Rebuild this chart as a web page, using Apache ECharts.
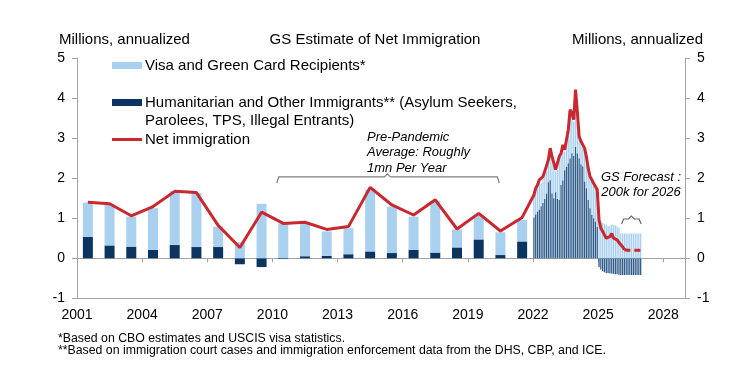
<!DOCTYPE html>
<html><head><meta charset="utf-8">
<script src="https://cdn.jsdelivr.net/npm/echarts@6/dist/echarts.min.js"></script>
<style>html,body{margin:0;padding:0;background:#fff}#c{width:750px;height:375px}</style>
</head><body><div id="c"></div>
<script>
// ---------- DATA ----------
const years = [2001,2002,2003,2004,2005,2006,2007,2008,2009,2010,2011,2012,2013,2014,2015,2016,2017,2018,2019,2020,2021];
const annualHumanitarian = [0.53,0.32,0.29,0.21,0.33,0.28,0.28,-0.15,-0.22,-0.02,0.05,0.06,0.10,0.17,0.13,0.21,0.14,0.27,0.47,0.08,0.42];
const annualVisa = [0.86,1.04,0.75,1.04,1.35,1.35,0.51,0.40,1.36,0.87,0.83,0.61,0.65,1.55,1.16,0.83,1.28,0.45,0.61,0.57,0.54];
const annualNet = [1.40,1.36,1.06,1.29,1.67,1.64,0.82,0.27,1.15,0.87,0.90,0.72,0.79,1.77,1.33,1.08,1.46,0.73,1.12,0.68,1.02];

const monthStartYear = 2022; // monthly series Jan 2022 .. Dec 2026
const monthlyHumanitarian = [
  1.02,1.10,1.17,1.22,1.30,1.38,1.48,1.62,1.90,1.95,1.62,1.50,
  1.65,1.48,1.46,1.83,1.95,2.20,2.28,2.37,2.50,2.62,2.55,2.78,
  2.62,2.50,2.35,2.30,1.92,1.75,1.46,1.25,1.08,1.00,0.92,0.78,
  -0.22,-0.28,-0.32,-0.35,-0.37,-0.37,-0.38,-0.38,-0.39,-0.40,-0.40,-0.41,
  -0.42,-0.42,-0.42,-0.42,-0.42,-0.42,-0.42,-0.42,-0.42,-0.42,-0.42,-0.42
];
const monthlyVisa = [
  0.51,0.60,0.61,0.69,0.57,0.61,0.64,0.54,0.51,0.75,0.87,0.83,
  0.51,0.72,1.03,0.74,0.83,0.46,0.63,0.79,1.16,0.95,0.86,1.38,
  1.00,0.49,0.52,0.53,0.78,0.74,0.74,0.74,0.83,0.82,0.82,0.88,
  0.98,0.92,0.88,0.86,0.84,0.80,0.82,0.84,0.83,0.82,0.80,0.76,
  0.62,0.62,0.62,0.62,0.62,0.62,0.62,0.62,0.62,0.62,0.62,0.62
];
const monthlyNet = [
  1.58,1.75,1.83,1.96,1.92,2.04,2.17,2.21,2.46,2.75,2.54,2.38,
  2.21,2.25,2.54,2.62,2.83,2.71,2.96,3.21,3.71,3.62,3.46,4.21,
  3.67,3.04,2.92,2.88,2.75,2.54,2.25,2.04,1.96,1.87,1.79,1.71,
  0.96,0.75,0.67,0.58,0.50,0.46,0.54,0.62,0.50,0.52,0.46,0.39,
  0.36,0.29,0.21
];
const forecastNet2026 = [0.21,0.20,0.20,0.20,0.20,0.20,0.20,0.20,0.20,0.20]; // Mar..Dec 2026
const forecastStartMonth = 50;

const yTicks = {min:-1, max:5, interval:1};
const xRange = {min:2001, max:2029, interval:3};

const NAME_VISA = 'Visa and Green Card Recipients*';
const NAME_HUM = 'Humanitarian and Other Immigrants** (Asylum Seekers, Parolees, TPS, Illegal Entrants)';
const NAME_NET = 'Net immigration';

// ---------- BUILD ----------
const yearCats = [];
for (let y = xRange.min; y < xRange.max; y++) yearCats.push(String(y));
const monthCats = [];
for (let y = xRange.min; y < xRange.max; y++) for (let m = 1; m <= 12; m++) monthCats.push(y + '-' + m);
const annualBars = arr => yearCats.map(c => { const i = years.indexOf(+c); return i < 0 ? null : arr[i]; });
const monthOffset = (monthStartYear - xRange.min) * 12;
const monthBars = arr => monthCats.map((c, k) => { const i = k - monthOffset; return (i >= 0 && i < arr.length) ? arr[i] : null; });

const monthX = i => monthStartYear + (i + 0.5) / 12;
const netLine = years.map((y, i) => [y + 0.5, annualNet[i]]).concat(monthlyNet.map((v, i) => [monthX(i), v]));
const forecastLine = forecastNet2026.map((v, k) => [monthX(forecastStartMonth + k), v]);

const FONT = '"Liberation Sans", Arial, sans-serif';
const AX = '#a3a3a3';
const NAVY = '#0c3460', LIGHT = '#a9d0ef', RED = '#c8282e';

const chart = echarts.init(document.getElementById('c'), null, {renderer: 'canvas'});
const titleStyle = {fontSize: 15, fontWeight: 'normal', color: '#000', fontFamily: FONT};
const legendText = {fontSize: 15, color: '#000', fontFamily: FONT, padding: [0,0,0,-2]};
const option = {
  animation: false,
  textStyle: {fontFamily: FONT, color: '#000'},
  title: [
    {text: 'GS Estimate of Net Immigration', left: 'center', top: 32, padding: 0, textStyle: titleStyle},
    {text: 'Millions, annualized', left: 59, top: 32, padding: 0, textStyle: titleStyle},
    {text: 'Millions, annualized', right: 47, top: 32, padding: 0, textStyle: titleStyle}
  ],
  legend: [
    {data: [{name: NAME_VISA, icon: 'rect'}], left: 112, top: 58, padding: 0, itemWidth: 30, itemHeight: 7,
     selectedMode: false, textStyle: legendText},
    {data: [{name: NAME_HUM, icon: 'rect'}], left: 112, top: 95, padding: 0, itemWidth: 30, itemHeight: 7,
     selectedMode: false, formatter: () => 'Humanitarian and Other Immigrants** (Asylum Seekers,',
     textStyle: legendText},
    {data: [{name: NAME_NET, icon: 'rect'}], left: 112, top: 132, padding: 0, itemWidth: 30, itemHeight: 3,
     selectedMode: false, textStyle: legendText}
  ],
  grid: {left: 77, right: 65, top: 58, bottom: 76.7, containLabel: false},
  xAxis: [
    {type: 'value', min: xRange.min, max: xRange.max, interval: xRange.interval, position: 'bottom',
     axisLine: {onZero: false, lineStyle: {color: AX, width: 1}},
     axisTick: {show: false}, splitLine: {show: false},
     axisLabel: {fontSize: 14, color: '#000', margin: 10, fontFamily: FONT, showMaxLabel: false,
       formatter: v => (v % 3 === 0 ? String(v) : '')}},
    {type: 'value', min: xRange.min, max: xRange.max, interval: xRange.interval, position: 'top',
     axisLine: {onZero: true, lineStyle: {color: AX, width: 1}},
     axisTick: {show: true, inside: true, length: 4, lineStyle: {color: AX}},
     axisLabel: {show: false}, splitLine: {show: false}},
    {type: 'category', data: yearCats, show: false, boundaryGap: true},
    {type: 'category', data: monthCats, show: false, boundaryGap: true}
  ],
  yAxis: [
    {type: 'value', min: yTicks.min, max: yTicks.max, interval: yTicks.interval, position: 'left',
     axisLine: {show: true, onZero: false, lineStyle: {color: AX}},
     axisTick: {show: true, length: 5, lineStyle: {color: AX}},
     splitLine: {show: false},
     axisLabel: {fontSize: 14, color: '#000', margin: 12, fontFamily: FONT}},
    {type: 'value', min: yTicks.min, max: yTicks.max, interval: yTicks.interval, position: 'right',
     axisLine: {show: true, onZero: false, lineStyle: {color: AX}},
     axisTick: {show: true, length: 5, lineStyle: {color: AX}},
     splitLine: {show: false},
     axisLabel: {fontSize: 14, color: '#000', margin: 12, fontFamily: FONT}}
  ],
  series: [
    {name: NAME_HUM, type: 'bar', xAxisIndex: 2, yAxisIndex: 0, stack: 'annual', barWidth: 10,
     itemStyle: {color: NAVY}, data: annualBars(annualHumanitarian), z: 2},
    {name: NAME_VISA, type: 'bar', xAxisIndex: 2, yAxisIndex: 0, stack: 'annual', barWidth: 10,
     itemStyle: {color: LIGHT}, data: annualBars(annualVisa), z: 2},
    {name: NAME_HUM, type: 'bar', xAxisIndex: 3, yAxisIndex: 0, stack: 'monthly', barWidth: 1.3,
     itemStyle: {color: '#2f5c8b'}, data: monthBars(monthlyHumanitarian), z: 2},
    {name: NAME_VISA, type: 'bar', xAxisIndex: 3, yAxisIndex: 0, stack: 'monthly', barWidth: 1.3,
     itemStyle: {color: LIGHT}, data: monthBars(monthlyVisa), z: 2},
    {name: NAME_NET, type: 'line', xAxisIndex: 0, yAxisIndex: 0, data: netLine, symbol: 'none',
     lineStyle: {color: RED, width: 3}, itemStyle: {color: RED}, z: 5},
    {name: 'Forecast', type: 'line', xAxisIndex: 0, yAxisIndex: 0, data: forecastLine, symbol: 'none',
     lineStyle: {color: RED, width: 3, type: [6, 4]}, z: 5}
  ]
};
chart.setOption(option);

// ---------- ANNOTATIONS ----------
const P = (x, y) => chart.convertToPixel({xAxisIndex: 0, yAxisIndex: 0}, [x, y]);
function bracket(x0, x1, xm, y, hook, notch, color) {
  const a = P(x0, y), b = P(x1, y), m = P(xm, y);
  const yy = a[1];
  return {type: 'polyline', shape: {points: [[a[0], yy + hook], [a[0] + 2, yy], [m[0] - notch, yy], [m[0], yy - notch], [m[0] + notch, yy], [b[0] - 2, yy], [b[0], yy + hook]]},
          style: {stroke: color, lineWidth: 1.2, fill: null}, z: 10};
}
chart.setOption({
  graphic: [
    bracket(2010.2, 2020.45, 2015.3, 2.03, 6, 3, '#7f7f7f'),
    bracket(2026.08, 2026.98, 2026.53, 0.98, 5, 3, '#666666'),
    {type: 'text', left: 145, top: 113, style: {text: 'Parolees, TPS, Illegal Entrants)', font: '15px ' + FONT, fill: '#000'}},
    {type: 'text', x: 367, y: 129.5, style: {text: 'Pre-Pandemic\nAverage: Roughly\n1mn Per Year', font: 'italic 13px ' + FONT, fill: '#000', lineHeight: 15.5, verticalAlign: 'top'}},
    {type: 'text', x: 641, y: 170, style: {text: 'GS Forecast :\n200k for 2026', font: 'italic 13px ' + FONT, fill: '#000', lineHeight: 15, align: 'center'}},
    {type: 'text', left: 58, top: 333, style: {text: '*Based on CBO estimates and USCIS visa statistics.\n**Based on immigration court cases and immigration enforcement data from the DHS, CBP, and ICE.', font: '12.3px ' + FONT, fill: '#000', lineHeight: 12}}
  ]
});
</script>
</body></html>
